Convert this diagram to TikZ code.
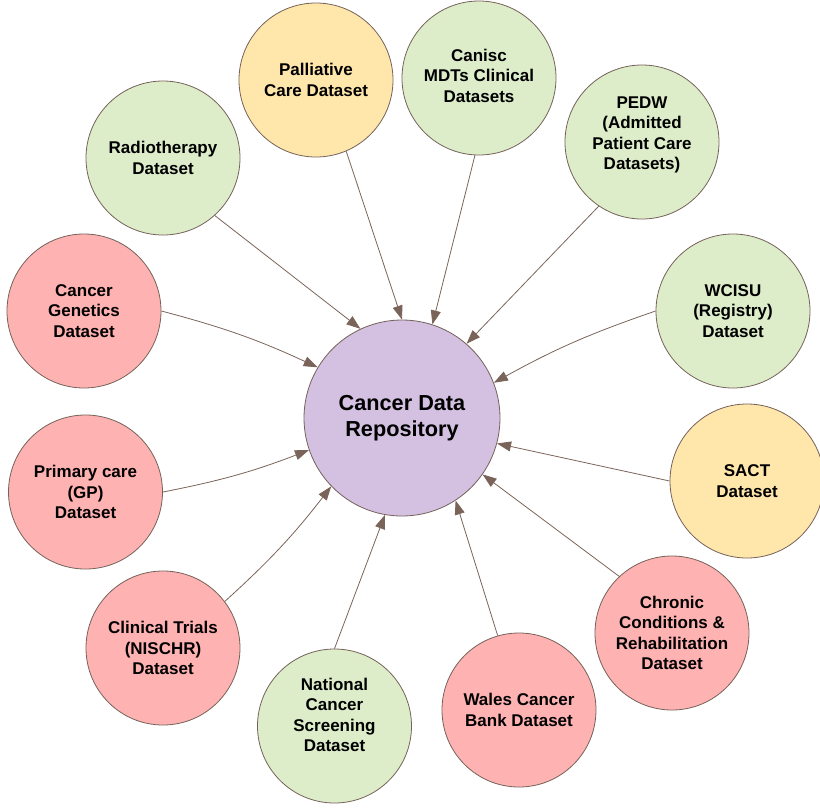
\documentclass[tikz,border=0pt]{standalone}
\usepackage{fontspec}
\setmainfont{Liberation Sans}
\usetikzlibrary{arrows.meta}
\definecolor{dsgreen}{RGB}{221,237,201}
\definecolor{dsyellow}{RGB}{255,230,171}
\definecolor{dspink}{RGB}{255,178,178}
\definecolor{repopurple}{RGB}{212,192,224}
\definecolor{rimbrown}{RGB}{117,98,90}
\definecolor{edgebrown}{RGB}{122,100,90}
\begin{document}
\begin{tikzpicture}[x=1pt,y=1pt,
  dataset/.style={circle,draw=rimbrown,line width=0.8pt,minimum size=154pt,inner sep=0pt,
    align=center,font=\fontsize{17}{20.5}\selectfont\bfseries},
  textup/.style={text depth=#1},
  repo/.style={circle,draw=rimbrown,line width=0.8pt,minimum size=196pt,inner sep=0pt,
    align=center,fill=repopurple,font=\fontsize{21.7}{25.5}\selectfont\bfseries},
  feed/.style={draw=edgebrown,line width=0.8pt,-{Triangle[length=14pt,width=10pt]}}]
\useasboundingbox (0,0) rectangle (820,-807);

%Central repository
\node[repo] (repo) at (402,-418){Cancer Data\\Repository};

%Datasets, clockwise from the top
\node[dataset,fill=dsyellow] (palliative) at (316,-80){Palliative\\Care Dataset};
\node[dataset,fill=dsgreen,textup=5pt] (canisc) at (479,-78){Canisc\\MDTs Clinical\\Datasets};
\node[dataset,fill=dsgreen,textup=18pt] (pedw) at (642,-142){PEDW\\(Admitted\\Patient Care\\Datasets)};
\node[dataset,fill=dsgreen] (wcisu) at (733,-311){WCISU\\(Registry)\\Dataset};
\node[dataset,fill=dsyellow] (sact) at (747,-481){SACT\\Dataset};
\node[dataset,fill=dspink] (chronic) at (672,-633){Chronic\\Conditions \&\\Rehabilitation\\Dataset};
\node[dataset,fill=dspink] (biobank) at (519,-710){Wales Cancer\\Bank Dataset};
\node[dataset,fill=dsgreen,textup=22pt] (screening) at (334.5,-726){National\\Cancer\\Screening\\Dataset};
\node[dataset,fill=dspink] (trials) at (163,-648){Clinical Trials\\(NISCHR)\\Dataset};
\node[dataset,fill=dspink] (primary) at (85.5,-492){Primary care\\(GP)\\Dataset};
\node[dataset,fill=dspink] (genetics) at (84,-311){Cancer\\Genetics\\Dataset};
\node[dataset,fill=dsgreen] (radio) at (163,-158){Radiotherapy\\Dataset};

%Feeds into the repository
\draw[feed] (palliative.-67) -- (repo.90);
\draw[feed] (canisc.-93) -- (repo.72);
\draw[feed] (pedw.-124) -- (repo.49);
\draw[feed] (wcisu.180) to[bend right=5] (repo.21);
\draw[feed] (sact.180) -- (repo.-15);
\draw[feed] (chronic.133) -- (repo.-35);
\draw[feed] (biobank.106) -- (repo.-57);
\draw[feed] (screening.90) -- (repo.-100);
\draw[feed] (trials.37) to[bend right=5] (repo.-136);
\draw[feed] (primary.0) to[bend right=5] (repo.-161);
\draw[feed] (genetics.0) to[bend left=5] (repo.149);
\draw[feed] (radio.-48) -- (repo.115);

\end{tikzpicture}
\end{document}
